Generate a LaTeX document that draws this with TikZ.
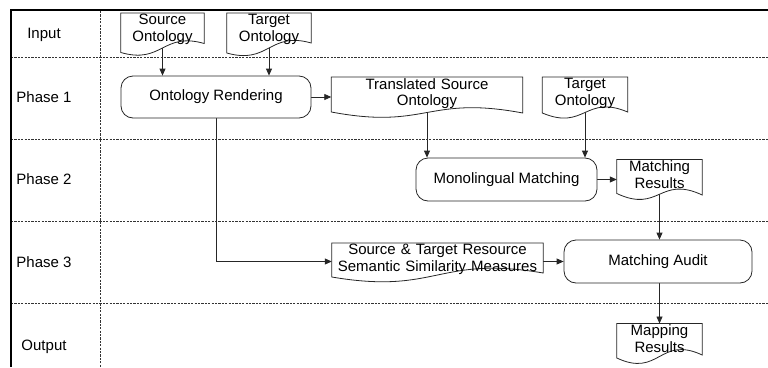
\documentclass[tikz,border=0pt]{standalone}
\usepackage{fontspec}
\setmainfont{Liberation Sans}
\usetikzlibrary{arrows.meta,calc}
\pgfdeclarelayer{conn}
\pgfdeclarelayer{docs}
\pgfsetlayers{conn,docs,main}
\tikzset{
  shapeline/.style={draw=black!85, line width=0.8pt},
  proc/.style={shapeline, fill=white, rounded corners=12pt, inner sep=0pt,
    font=\fontsize{15}{16.5}\selectfont},
  docnode/.style={anchor=north, inner xsep=0pt, inner ysep=1.2pt, align=center,
    font=\fontsize{15}{16.5}\selectfont},
  lane/.style={anchor=base, font=\fontsize{15}{16.5}\selectfont},
  arr/.style={draw=black!85, line width=0.8pt, -{Triangle[length=7pt,width=6pt]}},
  lanesep/.style={draw=black!80, line width=0.7pt, dash pattern=on 2.2pt off 1.2pt},
  frameline/.style={draw=black, line width=2.2pt}
}
\newcommand\docout[4]{%
  \begin{pgfonlayer}{docs}
  \draw[shapeline, fill=white] (#1.north west) -- (#1.north east)
    -- ($(#1.north east)+(0,#3)$)
    .. controls ($(#1.north)+(0,#3-2*#4)$) and ($(#1.north)+(0,#2+2*#4)$)
    .. ($(#1.north west)+(0,#2)$) -- cycle;
  \end{pgfonlayer}}
\begin{document}
\begin{tikzpicture}[x=1pt, y=-1pt]
\useasboundingbox (0,0) rectangle (768,367);
% swimlane grid
\draw[lanesep] (11,57) -- (768,57);
\draw[lanesep] (11,139) -- (768,139);
\draw[lanesep] (11,221) -- (768,221);
\draw[lanesep] (11,303.5) -- (768,303.5);
\draw[lanesep] (100,11) -- (100,367);
\draw[frameline] (11,367) -- (11,10.3) -- (768,10.3);
% lane labels
\node[lane] (lin) at (44,38.7) {Input};
\node[lane] (lp1) at (44,102.1) {Phase 1};
\node[lane] (lp2) at (44,184.7) {Phase 2};
\node[lane] (lp3) at (44,267.1) {Phase 3};
\node[lane] (lout) at (44,350.4) {Output};
% process boxes
\node[proc, minimum width=190pt, minimum height=42pt] (or) at (216,97) {Ontology Rendering};
\node[proc, minimum width=181pt, minimum height=43pt] (mm) at (506.5,179.5) {Monolingual Matching};
\node[proc, minimum width=188pt, minimum height=43pt] (ma) at (658,261.5) {Matching Audit};
% documents
\node[docnode, text width=83pt] (src) at (162.5,13) {Source\\Ontology};
\docout{src}{39.5}{30.5}{6}
\node[docnode, text width=84pt] (tgt) at (269,13) {Target\\Ontology};
\docout{tgt}{40}{30}{6}
\node[docnode, text width=191pt] (tr) at (427,77) {Translated Source\\Ontology};
\docout{tr}{35}{36}{9}
\node[docnode, text width=85pt] (tgt2) at (585,77) {Target\\Ontology};
\docout{tgt2}{36}{35}{9}
\node[docnode, text width=85pt] (mr) at (659.5,159.5) {Matching\\Results};
\docout{mr}{34}{35.5}{10}
\node[docnode, text width=211pt] (st) at (437.5,243) {Source \& Target Resource\\Semantic Similarity Measures};
\docout{st}{34}{30}{9}
\node[docnode, text width=85pt] (mapr) at (659.5,323.5) {Mapping\\Results};
\docout{mapr}{34.5}{31.5}{10}
% connectors
\begin{pgfonlayer}{conn}
\draw[arr] (src) -- (src |- or.north);
\draw[arr] (tgt) -- (tgt |- or.north);
\draw[arr] (or.east) -- (or.east -| tr.west);
\draw[arr] (tr) -- (tr |- mm.north);
\draw[arr] (tgt2) -- (tgt2 |- mm.north);
\draw[arr] (mm.east) -- (mm.east -| mr.west);
\draw[arr] (mr) -- (mr |- ma.north);
\draw[arr] (or.south) |- (st.west |- ma.west);
\draw[arr] (st.east |- ma.west) -- (ma.west);
\draw[arr] (ma.south -| mapr) -- (mapr.north);
\end{pgfonlayer}
\end{tikzpicture}
\end{document}
